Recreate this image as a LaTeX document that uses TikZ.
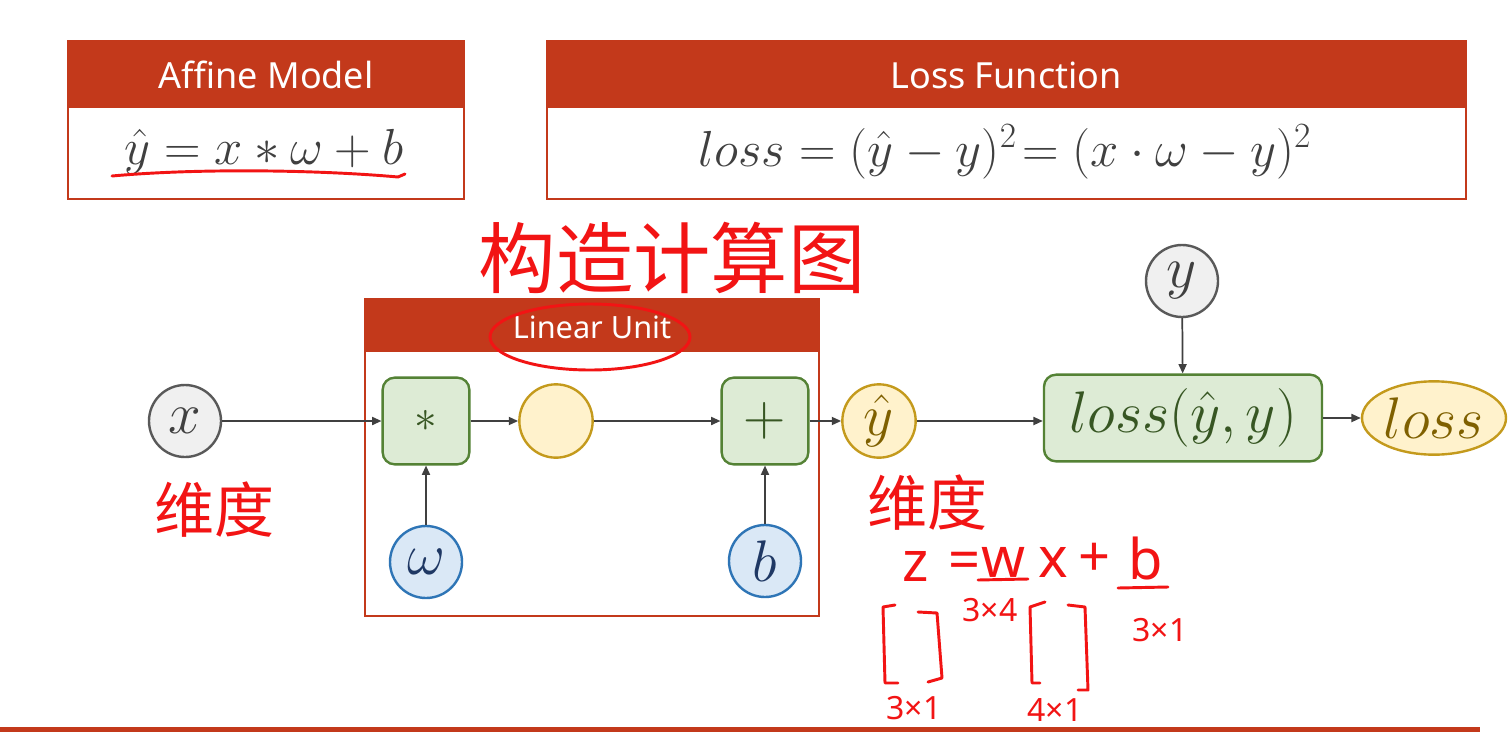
\RequirePackage{fix-cm}
\documentclass[tikz,border=0pt]{standalone}
\usepackage{fontspec}
\setmainfont{Noto Sans}
\newfontfamily\cjk{Noto Sans CJK SC}
\usetikzlibrary{arrows.meta,shapes.geometric}
\definecolor{hdr}{RGB}{195,57,27}
\definecolor{txt}{HTML}{404040}
\definecolor{grayfill}{HTML}{F0F0F0}
\definecolor{grayline}{HTML}{595959}
\definecolor{greenfill}{HTML}{DDEBD5}
\definecolor{greenline}{HTML}{548235}
\definecolor{greentxt}{HTML}{375623}
\definecolor{yelfill}{HTML}{FFF2CC}
\definecolor{yelline}{HTML}{C49A1C}
\definecolor{yeltxt}{HTML}{7F6000}
\definecolor{bluefill}{HTML}{DAE8F6}
\definecolor{blueline}{HTML}{2E75B6}
\definecolor{bluetxt}{HTML}{1F3864}
\definecolor{arrowc}{HTML}{404040}
\definecolor{pen}{RGB}{242,20,20}
\newcommand{\setfs}[1]{\fontsize{#1pt}{#1pt}\selectfont}
\tikzset{
  frame/.style={draw=hdr, line width=1.5pt},
  title/.style={text=white, font=\setfs{27}, inner sep=0},
  formula/.style={text=txt, font=\setfs{38}, inner sep=0},
  nodebase/.style={line width=1.8pt, inner sep=0, font=\setfs{44}},
  graycirc/.style={nodebase, circle, draw=grayline, fill=grayfill, text=txt, minimum size=54pt},
  greenbox/.style={nodebase, rectangle, rounded corners=9pt, draw=greenline, fill=greenfill, text=greentxt, minimum width=65pt, minimum height=65pt},
  yelcirc/.style={nodebase, circle, draw=yelline, fill=yelfill, text=yeltxt, minimum size=55pt},
  yelell/.style={nodebase, ellipse, draw=yelline, fill=yelfill, text=yeltxt, minimum width=108pt, minimum height=55pt},
  bluecirc/.style={nodebase, circle, draw=blueline, fill=bluefill, text=bluetxt, minimum size=54pt},
  arr/.style={draw=arrowc, line width=1.3pt, -{Triangle[length=7pt,width=6pt]}},
  pen/.style={draw=pen, line width=2.2pt, line cap=round, line join=round},
  hand/.style={text=pen, inner sep=0, font=\cjk\setfs{45}},
  handsm/.style={text=pen, inner sep=0, font=\setfs{24}},
}
\begin{document}
\begin{tikzpicture}[x=0.75pt,y=-0.75pt]
\useasboundingbox (0,0) rectangle (1510,732);
\fill[white] (0,0) rectangle (1510,732);

% Affine Model box
\fill[hdr] (68,41) rectangle (464,108);
\draw[frame] (68,41) rectangle (464,199);
\node[title] (affT) at (266,75) {Affine Model};
\node[formula] (affF) at (264,152) {$\hat{y} = x \ast \omega + b$};

% Loss Function box
\fill[hdr] (547,41) rectangle (1466,108);
\draw[frame] (547,41) rectangle (1466,199);
\node[title] (lossT) at (1006,75) {Loss Function};
\node[formula] (lossF) at (1005,152) {$loss = (\hat{y} - y)^2\!= (x \cdot \omega - y)^2$};

% Linear Unit box
\fill[hdr] (365,299) rectangle (819,352);
\draw[frame] (365,299) rectangle (819,616);
\node[title, font=\setfs{23}] (linT) at (592,327) {Linear Unit};

% nodes
\node[graycirc] (x) at (185,421) {$x$};
\node[greenbox, font=\setfs{34}] (mul) at (426,421) {$\ast$};
\node[yelcirc] (mid) at (556,421) {};
\node[greenbox] (add) at (765,421) {$+$};
\node[bluecirc] (w) at (426,562) {$\omega$};
\node[bluecirc] (b) at (765,561) {$b$};
\node[yelcirc] (yhat) at (879,421) {$\hat{y}$};
\node[graycirc] (y) at (1182,281) {$y$};
\node[greenbox, minimum width=208.5pt] (lossf) at (1183,418) {$loss(\hat{y},y)$};
\node[yelell] (loss) at (1434,418) {$loss$};

% connectors
\draw[arr] (x) -- (mul);
\draw[arr] (mul) -- (mid);
\draw[arr] (mid) -- (add);
\draw[arr] (add) -- (yhat);
\draw[arr] (w) -- (mul);
\draw[arr] (b) -- (add);
\draw[arr] (yhat.east) -- (yhat.east -| lossf.west);
\draw[arr] (y) -- (lossf);
\draw[arr] (lossf.east) -- (lossf.east -| loss.west);

% bottom bar
\fill[hdr] (0,727) rectangle (1480,732);

% handwritten annotations
\draw[pen] (112,176) .. controls (200,168) and (320,170) .. (398,177) -- (405,174);
\draw[pen] (590,337) ellipse [x radius=100, y radius=33];
\node[hand, font=\cjk\setfs{58}] (title) at (672,258) {构造计算图};
\node[hand] (dimx) at (214,510) {维度};
\node[hand] (dimy) at (927,503) {维度};
\node[hand, font=\setfs{42}] (hz) at (916,566) {z};
\node[hand, font=\setfs{42}] (heq) at (965,566) {=};
\node[hand, font=\setfs{42}] (hw) at (1003,562) {w};
\node[hand, font=\setfs{42}] (hx) at (1053,562) {x};
\node[hand, font=\setfs{42}] (hp) at (1095,560) {+};
\node[hand, font=\setfs{42}] (hb) at (1146,558) {b};
\draw[pen] (978,580) -- (1028,579);
\draw[pen] (1118,588) -- (1168,587);
\node[handsm] (d1) at (990,610) {3×4};
\node[handsm] (d2) at (1160,630) {3×1};
\node[handsm] (d3) at (914,708) {3×1};
\node[handsm] (d4) at (1055,710) {4×1};
\draw[pen] (895,605) -- (883,607) -- (885,683) -- (898,683);
\draw[pen] (918,612) -- (937,613) -- (942,678) -- (928,682);
\draw[pen] (1045,602) -- (1030,607) -- (1032,683) -- (1040,683);
\draw[pen] (1068,605) -- (1085,607) -- (1088,690) -- (1078,690);
\end{tikzpicture}
\end{document}
